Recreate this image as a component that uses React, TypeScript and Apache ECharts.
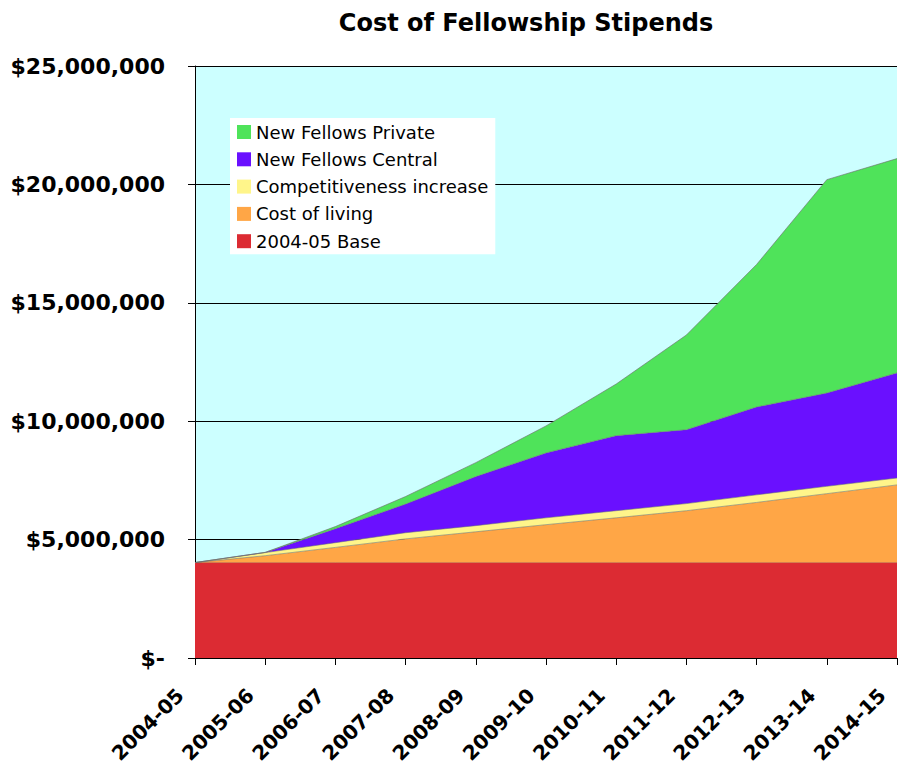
import React, { useEffect, useRef } from "react";
import * as echarts from "echarts";

const categories = ["2004-05", "2005-06", "2006-07", "2007-08", "2008-09", "2009-10", "2010-11", "2011-12", "2012-13", "2013-14", "2014-15"];
const base = [4030000, 4030000, 4030000, 4030000, 4030000, 4030000, 4030000, 4030000, 4030000, 4030000, 4030000];
const costOfLiving = [0, 290000, 640000, 1000000, 1300000, 1600000, 1890000, 2190000, 2540000, 2910000, 3280000];
const competitiveness = [0, 130000, 200000, 260000, 260000, 290000, 300000, 300000, 320000, 310000, 290000];
const newFellowsCentral = [0, 10000, 590000, 1210000, 2070000, 2740000, 3170000, 3120000, 3710000, 3940000, 4440000];
const newFellowsPrivate = [0, 0, 90000, 320000, 590000, 1140000, 2180000, 4000000, 6020000, 9010000, 9050000];

const seriesDefs = [
  { name: "2004-05 Base", data: base, color: "#DC2B33", line: "rgba(200,100,60,0.8)" },
  { name: "Cost of living", data: costOfLiving, color: "#FFA646", line: "rgba(110,110,110,0.7)" },
  { name: "Competitiveness increase", data: competitiveness, color: "#FFF58A", line: "rgba(110,110,110,0.7)" },
  { name: "New Fellows Central", data: newFellowsCentral, color: "#6A10FF", line: "rgba(110,110,110,0.7)" },
  { name: "New Fellows Private", data: newFellowsPrivate, color: "#4FE35A", line: "rgba(110,110,110,0.8)" },
];
const legendOrder = ["New Fellows Private", "New Fellows Central", "Competitiveness increase", "Cost of living", "2004-05 Base"];

const FONT = "'DejaVu Sans', Verdana, sans-serif";

export default function App() {
  const ref = useRef<HTMLDivElement>(null);
  useEffect(() => {
    document.body.style.margin = "0";
    const chart = echarts.init(ref.current!, null, { renderer: "svg" });
    chart.setOption({
      animation: false,
      backgroundColor: "#ffffff",
      title: {
        text: "Cost of Fellowship Stipends",
        left: 521,
        textAlign: "center",
        top: 6,
        textStyle: { fontFamily: FONT, fontWeight: "bold", fontSize: 24, color: "#000" },
      },
      legend: {
        orient: "vertical",
        left: 230,
        top: 118,
        data: legendOrder,
        backgroundColor: "#ffffff",
        padding: [5, 7, 4, 7],
        itemWidth: 14,
        itemHeight: 14,
        itemGap: 9.3,
        icon: "rect",
        textStyle: { fontFamily: FONT, fontSize: 18, color: "#000" },
      },
      grid: {
        left: 195,
        right: 1,
        top: 66,
        bottom: 115,
        show: true,
        backgroundColor: "#CCFFFF",
        borderWidth: 0,
        outerBoundsMode: "none",
        containLabel: false,
      },
      xAxis: {
        type: "category",
        data: categories,
        boundaryGap: false,
        axisLine: { lineStyle: { color: "#000", width: 1 } },
        axisTick: { show: true, length: 7, lineStyle: { color: "#000" } },
        axisLabel: {
          rotate: 45,
          margin: 19,
          padding: [0, 21, 0, 0],
          fontFamily: FONT,
          fontWeight: "bold",
          fontSize: 20,
          color: "#000",
        },
      },
      yAxis: {
        type: "value",
        min: 0,
        max: 25000000,
        interval: 5000000,
        axisLine: { show: true, lineStyle: { color: "#000", width: 1 } },
        axisTick: { show: true, length: 7, lineStyle: { color: "#000" } },
        splitLine: { show: true, lineStyle: { color: "#000", width: 1 } },
        axisLabel: {
          margin: 30,
          fontFamily: FONT,
          fontWeight: "bold",
          fontSize: 22,
          color: "#000",
          formatter: (v: number) => (v === 0 ? "$-" : "$" + v.toLocaleString("en-US")),
        },
      },
      series: seriesDefs.map((s) => ({
        name: s.name,
        type: "line",
        stack: "total",
        data: s.data,
        symbol: "none",
        itemStyle: { color: s.color },
        lineStyle: { color: s.line, width: 0.8 },
        areaStyle: { color: s.color, opacity: 1 },
      })),
    });
    return () => chart.dispose();
  }, []);
  return <div ref={ref} style={{ width: 898, height: 773 }} />;
}
